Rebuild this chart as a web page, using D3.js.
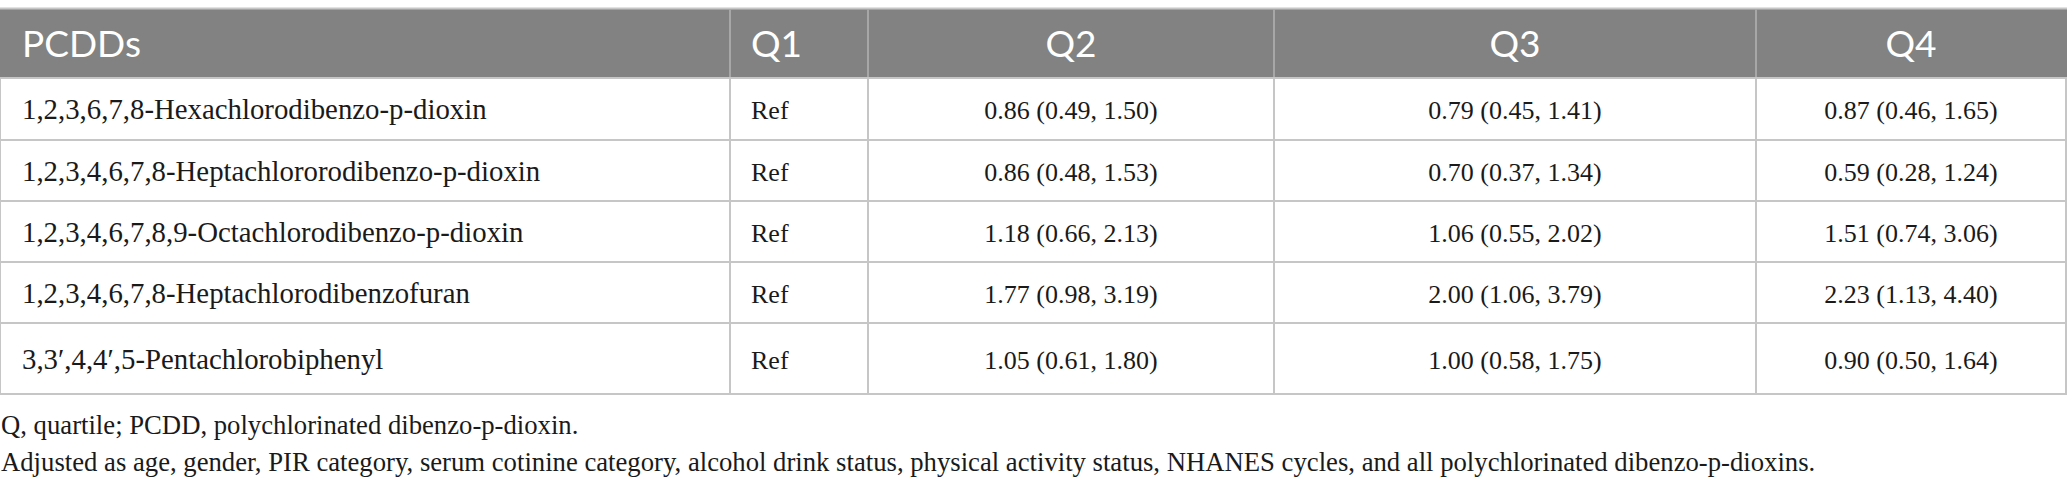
<!DOCTYPE html>
<html>
<head>
<meta charset="utf-8">
<script src="https://cdn.jsdelivr.net/npm/d3@7"></script>
<style>
  html, body { margin: 0; padding: 0; background: #fff; }
  #table-viz { width: 2067px; height: 489px; }
</style>
</head>
<body>
<div id="table-viz"></div>
<script>
// PCDDs x quartiles table

const headers = ['PCDDs', 'Q1', 'Q2', 'Q3', 'Q4'];
const compounds = [
    '1,2,3,6,7,8-Hexachlorodibenzo-p-dioxin',
    '1,2,3,4,6,7,8-Heptachlororodibenzo-p-dioxin',
    '1,2,3,4,6,7,8,9-Octachlorodibenzo-p-dioxin',
    '1,2,3,4,6,7,8-Heptachlorodibenzofuran',
    '3,3\u2032,4,4\u2032,5-Pentachlorobiphenyl'
];
const q1 = ['Ref', 'Ref', 'Ref', 'Ref', 'Ref'];
const q2 = ['0.86 (0.49, 1.50)', '0.86 (0.48, 1.53)', '1.18 (0.66, 2.13)', '1.77 (0.98, 3.19)', '1.05 (0.61, 1.80)'];
const q3 = ['0.79 (0.45, 1.41)', '0.70 (0.37, 1.34)', '1.06 (0.55, 2.02)', '2.00 (1.06, 3.79)', '1.00 (0.58, 1.75)'];
const q4 = ['0.87 (0.46, 1.65)', '0.59 (0.28, 1.24)', '1.51 (0.74, 3.06)', '2.23 (1.13, 4.40)', '0.90 (0.50, 1.64)'];
const footnotes = [
    'Q, quartile; PCDD, polychlorinated dibenzo-p-dioxin.',
    'Adjusted as age, gender, PIR category, serum cotinine category, alcohol drink status, physical activity status, NHANES cycles, and all polychlorinated dibenzo-p-dioxins.'
];

function createTable() {
    const container = d3.select('#table-viz');
    container.html('');

    const width = 2067;
    const height = 489;

    const svg = container.append('svg')
        .attr('width', width)
        .attr('height', height);

    // column edges (left of each column, plus right edge)
    const colEdges = [1, 730, 868, 1274, 1756, 2066];
    const colLeft = d3.scaleOrdinal().domain(headers).range(colEdges.slice(0, 5));
    const colRight = d3.scaleOrdinal().domain(headers).range(colEdges.slice(1));
    const colAlign = { 'PCDDs': 'start', 'Q1': 'start', 'Q2': 'middle', 'Q3': 'middle', 'Q4': 'middle' };
    const textX = c => colAlign[c] === 'start'
        ? colLeft(c) + 21
        : (colLeft(c) + colRight(c)) / 2;

    // row edges: header + five body rows
    const headTop = 9, headBottom = 78;
    const rowEdges = [78, 140, 201, 262, 323, 394];
    const rowTop = d3.scaleOrdinal().domain(d3.range(5)).range(rowEdges.slice(0, 5));
    const rowBottom = d3.scaleOrdinal().domain(d3.range(5)).range(rowEdges.slice(1));

    const gridColor = '#c6c6c6';
    const serif = '"Liberation Serif", "Times New Roman", serif';

    // header band
    svg.append('rect')
        .attr('x', 0)
        .attr('y', headTop)
        .attr('width', colEdges[5] + 1)
        .attr('height', headBottom - headTop)
        .attr('fill', '#818281');

    svg.append('line')
        .attr('x1', 0).attr('x2', colEdges[5] + 1)
        .attr('y1', headTop - 0.5).attr('y2', headTop - 0.5)
        .attr('stroke', gridColor)
        .attr('stroke-width', 2);

    svg.selectAll('.head-text')
        .data(headers)
        .enter()
        .append('text')
        .attr('class', 'head-text')
        .attr('x', textX)
        .attr('y', 57)
        .attr('text-anchor', d => colAlign[d])
        .attr('fill', '#fff')
        .attr('font-family', 'Lato, "Open Sans", sans-serif')
        .attr('font-size', '37px')
        .text(d => d);

    // header column dividers
    svg.selectAll('.head-div')
        .data(headers.slice(1))
        .enter()
        .append('line')
        .attr('class', 'head-div')
        .attr('x1', d => colLeft(d)).attr('x2', d => colLeft(d))
        .attr('y1', headTop).attr('y2', headBottom)
        .attr('stroke', '#a6a7a6')
        .attr('stroke-width', 2);

    // body grid: horizontal lines
    svg.selectAll('.row-line')
        .data(rowEdges)
        .enter()
        .append('line')
        .attr('class', 'row-line')
        .attr('x1', 0).attr('x2', colEdges[5] + 1)
        .attr('y1', d => d).attr('y2', d => d)
        .attr('stroke', gridColor)
        .attr('stroke-width', 2);

    // body grid: vertical lines
    svg.selectAll('.col-line')
        .data([0].concat(colEdges.slice(1)))
        .enter()
        .append('line')
        .attr('class', 'col-line')
        .attr('x1', d => d).attr('x2', d => d)
        .attr('y1', headBottom).attr('y2', rowEdges[5])
        .attr('stroke', gridColor)
        .attr('stroke-width', 2);

    // cells
    const columns = { 'PCDDs': compounds, 'Q1': q1, 'Q2': q2, 'Q3': q3, 'Q4': q4 };
    const cells = [];
    headers.forEach(c => {
        columns[c].forEach((v, i) => cells.push({ col: c, row: i, value: v }));
    });

    svg.selectAll('.cell')
        .data(cells)
        .enter()
        .append('text')
        .attr('class', 'cell')
        .attr('x', d => textX(d.col))
        .attr('y', d => (rowTop(d.row) + rowBottom(d.row)) / 2 + 10)
        .attr('text-anchor', d => colAlign[d.col])
        .attr('fill', '#1a1a1a')
        .attr('font-family', serif)
        .attr('font-size', d => d.col === 'PCDDs' ? '28.8px' : '26px')
        .text(d => d.value);

    // footnotes
    svg.selectAll('.foot')
        .data(footnotes)
        .enter()
        .append('text')
        .attr('class', 'foot')
        .attr('x', 1)
        .attr('y', (d, i) => 434 + i * 37)
        .attr('fill', '#1a1a1a')
        .attr('font-family', serif)
        .attr('font-size', '26.7px')
        .text(d => d);
}

if (document.readyState === 'loading') {
    document.addEventListener('DOMContentLoaded', createTable);
} else {
    createTable();
}
</script>
</body>
</html>
